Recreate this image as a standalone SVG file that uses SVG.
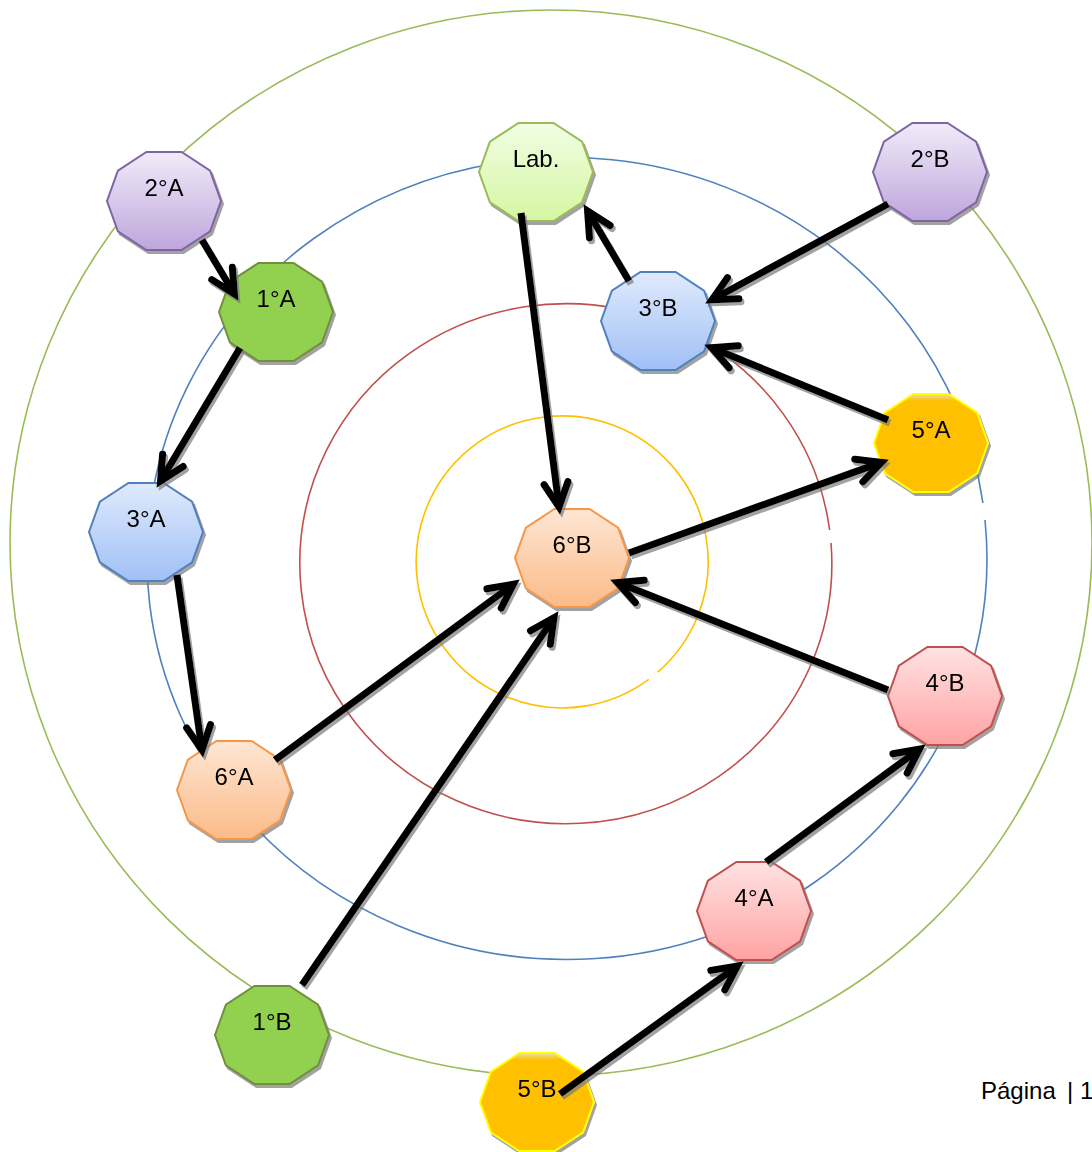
<svg xmlns="http://www.w3.org/2000/svg" xmlns:xlink="http://www.w3.org/1999/xlink" width="1092" height="1152" viewBox="0 0 1092 1152">
<defs>
<style>
.ring{fill:none;stroke-width:1.6}
.nd{stroke-width:2}
.lilac{fill:url(#gLilac);stroke:#8064a2}
.green{fill:#92d050;stroke:#728f3e}
.lime{fill:url(#gLime);stroke:#9bbb59}
.blue{fill:url(#gBlue);stroke:#4f81bd}
.orange{fill:url(#gOrange);stroke:#f79646}
.pink{fill:url(#gPink);stroke:#c0504d}
.gold{fill:url(#gGold);stroke:#ffff00}
.lbl{font-family:"Liberation Sans","DejaVu Sans",sans-serif;font-size:24px;fill:#000;text-anchor:middle}
.arr{fill:none;stroke:#000;stroke-width:7;stroke-linecap:butt;marker-end:url(#ah)}
.page{font-family:"Liberation Sans","DejaVu Sans",sans-serif;font-size:24px;fill:#000}
</style>
<linearGradient id="gLilac" x1="0" y1="0" x2="0" y2="1"><stop offset="0" stop-color="#f1ebf9"/><stop offset="1" stop-color="#bea6dc"/></linearGradient>
<linearGradient id="gLime" x1="0" y1="0" x2="0" y2="1"><stop offset="0" stop-color="#f1fde3"/><stop offset="1" stop-color="#d5f7a3"/></linearGradient>
<linearGradient id="gBlue" x1="0" y1="0" x2="0" y2="1"><stop offset="0" stop-color="#e0eafc"/><stop offset="1" stop-color="#a0c0f6"/></linearGradient>
<linearGradient id="gOrange" x1="0" y1="0" x2="0" y2="1"><stop offset="0" stop-color="#fee6d4"/><stop offset="1" stop-color="#fbbb88"/></linearGradient>
<linearGradient id="gPink" x1="0" y1="0" x2="0" y2="1"><stop offset="0" stop-color="#ffe2e2"/><stop offset="1" stop-color="#ffa3a3"/></linearGradient>
<linearGradient id="gGold" x1="0" y1="0" x2="0" y2="1"><stop offset="0" stop-color="#e8e0b0"/><stop offset="0.07" stop-color="#ffc000"/><stop offset="1" stop-color="#ffc000"/></linearGradient>
<polygon id="dec" points="57,0 46.1,30.3 17.6,49 -17.6,49 -46.1,30.3 -57,0 -46.1,-30.3 -17.6,-49 17.6,-49 46.1,-30.3"/>
<filter id="sh" x="-10%" y="-10%" width="125%" height="125%">
<feDropShadow dx="2" dy="3" stdDeviation="0.7" flood-color="#7a7a7a" flood-opacity="0.7"/>
</filter>
<marker id="ah" markerUnits="userSpaceOnUse" orient="auto" overflow="visible" refX="0" refY="0" markerWidth="1" markerHeight="1">
<path d="M-24,-12 L0,0 L-24,12" fill="none" stroke="#000" stroke-width="7" stroke-linejoin="miter" stroke-linecap="round"/>
</marker>
</defs>
<rect width="1092" height="1152" fill="#fff"/>
<g id="rings">
<ellipse class="ring" cx="551" cy="543" rx="541" ry="533" stroke="#9bbb59"/>
<path class="ring" d="M985 520 A420 401 0 1 1 982.9 503" stroke="#4f81bd"/>
<path class="ring" d="M831 543 A266 260 0 1 1 829.6 530" stroke="#c0504d"/>
<path class="ring" d="M648.8 679.4 A146 146 0 1 1 657.8 672.2" stroke="#ffc000"/>
</g>
<g id="node-2A" filter="url(#sh)" transform="translate(164,201)"><use xlink:href="#dec" class="nd lilac"/><text class="lbl" y="-5">2°A</text></g>
<g id="node-1A" filter="url(#sh)" transform="translate(276,312)"><use xlink:href="#dec" class="nd green"/><text class="lbl" y="-5">1°A</text></g>
<g id="node-Lab" filter="url(#sh)" transform="translate(536,172)"><use xlink:href="#dec" class="nd lime"/><text class="lbl" y="-5">Lab.</text></g>
<g id="node-3B" filter="url(#sh)" transform="translate(658,321)"><use xlink:href="#dec" class="nd blue"/><text class="lbl" y="-5">3°B</text></g>
<g id="node-2B" filter="url(#sh)" transform="translate(930,172)"><use xlink:href="#dec" class="nd lilac"/><text class="lbl" y="-5">2°B</text></g>
<g id="node-5A" filter="url(#sh)" transform="translate(931,443)"><use xlink:href="#dec" class="nd gold"/><text class="lbl" y="-5">5°A</text></g>
<g id="node-3A" filter="url(#sh)" transform="translate(146,532)"><use xlink:href="#dec" class="nd blue"/><text class="lbl" y="-5">3°A</text></g>
<g id="node-6B" filter="url(#sh)" transform="translate(572,558)"><use xlink:href="#dec" class="nd orange"/><text class="lbl" y="-5">6°B</text></g>
<g id="node-4B" filter="url(#sh)" transform="translate(945,696)"><use xlink:href="#dec" class="nd pink"/><text class="lbl" y="-5">4°B</text></g>
<g id="node-6A" filter="url(#sh)" transform="translate(234,790)"><use xlink:href="#dec" class="nd orange"/><text class="lbl" y="-5">6°A</text></g>
<g id="node-4A" filter="url(#sh)" transform="translate(754,911)"><use xlink:href="#dec" class="nd pink"/><text class="lbl" y="-5">4°A</text></g>
<g id="node-1B" filter="url(#sh)" transform="translate(272,1035)"><use xlink:href="#dec" class="nd green"/><text class="lbl" y="-5">1°B</text></g>
<g id="node-5B" filter="url(#sh)" transform="translate(537,1102)"><use xlink:href="#dec" class="nd gold"/><text class="lbl" y="-5">5°B</text></g>
<g id="connectors" filter="url(#sh)">
<path class="arr" d="M202 240 L234.4 294"/>
<path class="arr" d="M240 348 L160.6 481"/>
<path class="arr" d="M177 575 L202 750"/>
<path class="arr" d="M275 760 L513.4 584.2"/>
<path class="arr" d="M302 985 L554 617.8"/>
<path class="arr" d="M521 213 L559.1 507"/>
<path class="arr" d="M629 553 L881.4 462.4"/>
<path class="arr" d="M888 690 L617.5 582.6"/>
<path class="arr" d="M888 420 L711.5 347.7"/>
<path class="arr" d="M629 281 L587.6 211"/>
<path class="arr" d="M888 204 L712.1 299.7"/>
<path class="arr" d="M766 862 L919.4 749.2"/>
<path class="arr" d="M560 1094 L737.3 966.1"/>
</g>
<text class="page" x="981" y="1099">Página <tspan x="1067">| 1</tspan></text>
</svg>
